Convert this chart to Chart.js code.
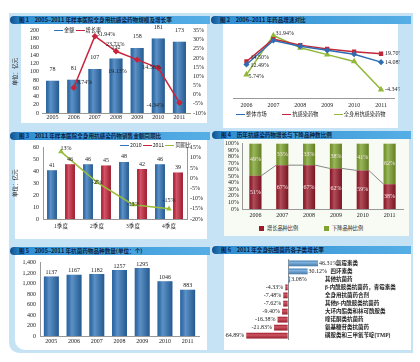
<!DOCTYPE html>
<html>
<head>
<meta charset="utf-8">
<script src="https://cdn.jsdelivr.net/npm/chart.js@4"></script>
<style>
body{margin:0;width:420px;height:362px;background:#fff;position:relative;overflow:hidden;font-family:"Noto Sans CJK SC",sans-serif}
.bg{position:absolute;left:9px;top:13px;width:404px;height:340px;background:#c6e3f5;border-radius:0 0 0 10px}
.inner{position:absolute;background:#fff}
.hd{position:absolute;height:8px;border-radius:4px 0 0 4px;background:linear-gradient(90deg,#0f4f8f,#2f8fd2 6%,#56aee5);color:#0a2246;font-size:5.6px;font-weight:bold;line-height:8px;padding-left:9px;white-space:nowrap;box-sizing:border-box}
canvas{position:absolute}
.lg{position:absolute;font-size:5.2px;line-height:7px;white-space:nowrap;color:#222}
.ln{display:inline-block;width:9px;height:0;border-top:1.5px solid;vertical-align:middle;margin-right:1px}
.sq{display:inline-block;width:5px;height:5px;vertical-align:middle;margin-right:3px}
</style>
</head>
<body>
<div class="bg"></div>
<div class="inner" style="left:21px;top:24px;width:186px;height:99px"></div>
<div class="inner" style="left:223px;top:24px;width:175px;height:104px"></div>
<div class="inner" style="left:15px;top:140px;width:192px;height:99px"></div>
<div class="inner" style="left:224px;top:137px;width:185px;height:99px;background:#f7fbf3"></div>
<div class="inner" style="left:15px;top:254px;width:192px;height:96px;border-radius:0 0 0 10px"></div>
<div class="inner" style="left:224px;top:252px;width:187px;height:98px"></div>

<div class="hd" style="left:10px;top:16px;width:200px">图 1　2005–2011 年样本医院全身用抗感染药物规模及增长率</div>
<div class="hd" style="left:211px;top:16px;width:200px">图 2　2006–2011 年药品增速对比</div>
<div class="hd" style="left:10px;top:132px;width:200px">图 3　2011 年样本医院全身用抗感染药物销售金额同期比</div>
<div class="hd" style="left:212px;top:131px;width:199px">图 4　历年抗感染药物增长与下降品种数比例</div>
<div class="hd" style="left:10px;top:247px;width:200px">图 5　2005–2011 年抗菌药物品种数量(单位：个)</div>
<div class="hd" style="left:212px;top:246px;width:199px">图 6　2011 年全身抗细菌药各子类增长率</div>

<canvas id="c1" width="196" height="98" style="left:12px;top:24px"></canvas>
<canvas id="c2" width="175" height="88" style="left:225px;top:24px"></canvas>
<canvas id="c3" width="196" height="95" style="left:12px;top:140px"></canvas>
<canvas id="c4" width="185" height="86" style="left:225px;top:137px"></canvas>
<canvas id="c5" width="192" height="92" style="left:15px;top:255px"></canvas>
<canvas id="c6" width="185" height="93" style="left:225px;top:253px"></canvas>

<div class="lg" style="left:54px;top:26px"><span class="ln" style="border-color:#2f73b8"></span>金额 <span class="ln" style="border-color:#c8243c"></span>增长率</div>
<div class="lg" style="left:236px;top:110px"><span class="ln" style="border-color:#2e6db4"></span>整体市场　　　<span class="ln" style="border-color:#c0283a"></span>抗感染药物　　　<span class="ln" style="border-color:#92b83a"></span>全身用抗感染药物</div>
<div class="lg" style="left:120px;top:141px"><span class="ln" style="border-color:#2f73b8"></span>2010 <span class="ln" style="border-color:#c8243c"></span>2011 <span class="ln" style="border-color:#9bbb3b"></span>同期比</div>
<div class="lg" style="left:259px;top:224px"><span class="sq" style="background:#9b1b2b"></span>增长品种比例　　　　　<span class="sq" style="background:#7fa32e"></span>下降品种比例</div>

<script>
const years = ['2005', '2006', '2007', '2008', '2009', '2010', '2011'];
const amount = [78, 81, 107, 132, 158, 181, 173];
const amountGrowth = [null, 3.74, 31.94, 23.71, 19.13, 14.56, -4.34];

const years2 = ['2006', '2007', '2008', '2009', '2010', '2011'];
const marketGrowth = [12.49, 28.6, 24.8, 22.0, 19.4, 14.08];
const antiGrowth = [14.50, 29.5, 25.5, 22.9, 21.1, 19.70];
const systemicGrowth = [5.74, 31.94, 23.71, 19.13, 14.56, -4.34];

const quarters = ['1季度', '2季度', '3季度', '4季度'];
const sales2010 = [41, 46, 48, 46];
const sales2011 = [46, 45, 42, 39];
const yoy = [13, -2, -13, -15];

const riseShare = [51, 67, 67, 62, 59, 38];
const fallShare = [49, 33, 33, 38, 41, 62];

const varietyCount = [1137, 1167, 1182, 1257, 1295, 1046, 883];

const subclasses = ['氯霉素类', '四环素类', '其他抗菌药', 'β-内酰胺类抗菌药，青霉素类', '全身用抗菌药合剂',
  '其他β-内酰胺类抗菌药', '大环内酯类和林可酰胺类', '喹诺酮类抗菌药', '氨基糖苷类抗菌药', '磺胺类和三甲氧苄啶(TMP)'];
const subGrowth = [46.31, 30.12, 3.08, -4.33, -7.48, -7.62, -9.40, -16.38, -21.83, -64.89];

Chart.defaults.font.family = '"Liberation Serif", "Noto Sans CJK SC", serif';
Chart.defaults.font.size = 6;
Chart.defaults.color = '#222';
Chart.defaults.animation = false;
Chart.defaults.responsive = false;
Chart.defaults.plugins.legend.display = false;
Chart.defaults.plugins.tooltip.enabled = false;

const numFont = '6px "Liberation Serif", "Noto Sans CJK SC"';
const pct = v => v.toFixed(2) + '%';
const noGrid = { display: false, drawTicks: false };

function labels(draw) {
  return {
    id: 'labels',
    afterDatasetsDraw(chart) {
      const ctx = chart.ctx;
      ctx.save();
      ctx.font = numFont;
      ctx.fillStyle = '#222';
      draw(chart, ctx);
      ctx.restore();
    }
  };
}

// cylinder-like shading over bar datasets
const shade = {
  id: 'shade',
  afterDatasetDraw(chart, args) {
    const meta = args.meta;
    if (meta.type !== 'bar') return;
    const ctx = chart.ctx;
    ctx.save();
    meta.data.forEach(b => {
      const horizontal = chart.options.indexAxis === 'y';
      const x0 = horizontal ? Math.min(b.x, b.base) : b.x - b.width / 2;
      const y0 = horizontal ? b.y - b.height / 2 : Math.min(b.y, b.base);
      const w = horizontal ? Math.abs(b.x - b.base) : b.width;
      const h = horizontal ? b.height : Math.abs(b.base - b.y);
      const g = horizontal ? ctx.createLinearGradient(0, y0, 0, y0 + h) : ctx.createLinearGradient(x0, 0, x0 + w, 0);
      g.addColorStop(0, 'rgba(0,0,0,0.12)');
      g.addColorStop(0.35, 'rgba(255,255,255,0.22)');
      g.addColorStop(1, 'rgba(0,0,0,0.22)');
      ctx.fillStyle = g;
      ctx.fillRect(x0, y0, w, h);
    });
    ctx.restore();
  }
};

function fixed(w, h) {
  return a => {
    if (w != null) a.width = w;
    if (h != null) a.height = h;
  };
}

// 图1
const growthOffsets = [null, [3, -5], [2, -2], [-10, -7], [-29, 12], [-16, -1], [-33, 3]];
new Chart(document.getElementById('c1'), {
  data: {
    labels: years,
    datasets: [
      { type: 'line', data: amountGrowth, yAxisID: 'y1', borderColor: '#c8243c', backgroundColor: '#c8243c',
        borderWidth: 1.5, pointRadius: 2.2, pointStyle: 'rectRot', order: 0 },
      { type: 'bar', data: amount, yAxisID: 'y', backgroundColor: '#2f73b8',
        barPercentage: 0.62, categoryPercentage: 1, order: 1 }
    ]
  },
  options: {
    layout: { padding: { top: 6 } },
    scales: {
      x: { grid: noGrid, border: { color: '#999' }, ticks: { padding: 1, maxRotation: 0 }, afterFit: fixed(null, 9) },
      y: { min: 0, max: 200, ticks: { stepSize: 20, padding: 3, autoSkip: false }, grid: noGrid, border: { display: false },
        title: { display: true, text: '单位：亿元', padding: 0, font: { size: 5.5 } }, afterFit: fixed(30) },
      y1: { position: 'right', min: -10, max: 35, ticks: { stepSize: 5, padding: 3, autoSkip: false, callback: v => v + '%' },
        grid: noGrid, border: { display: false }, afterFit: fixed(18) }
    }
  },
  plugins: [shade, labels((chart, ctx) => {
    ctx.textAlign = 'center';
    ctx.textBaseline = 'bottom';
    chart.getDatasetMeta(1).data.forEach((b, i) => ctx.fillText(amount[i], b.x, b.y - 8));
    ctx.textAlign = 'left';
    ctx.textBaseline = 'middle';
    chart.getDatasetMeta(0).data.forEach((p, i) => {
      if (amountGrowth[i] == null) return;
      const o = growthOffsets[i];
      ctx.fillText(pct(amountGrowth[i]), p.x + o[0], p.y + o[1]);
    });
  })]
});

// 图2
new Chart(document.getElementById('c2'), {
  type: 'line',
  data: {
    labels: years2,
    datasets: [
      { data: marketGrowth, borderColor: '#2e6db4', backgroundColor: '#2e6db4', borderWidth: 1.5, pointRadius: 2, pointStyle: 'rectRot' },
      { data: antiGrowth, borderColor: '#c0283a', backgroundColor: '#c0283a', borderWidth: 1.5, pointRadius: 2, pointStyle: 'rect' },
      { data: systemicGrowth, borderColor: '#92b83a', backgroundColor: '#92b83a', borderWidth: 1.5, pointRadius: 2.2, pointStyle: 'triangle' }
    ]
  },
  options: {
    layout: { padding: { top: 3, left: 8, right: 3 } },
    scales: {
      x: { offset: true, grid: { display: false, drawTicks: true, tickLength: 2 }, border: { color: '#999' }, ticks: { padding: 2, maxRotation: 0 }, afterFit: fixed(null, 14) },
      y: { display: false, min: -10, max: 36 }
    }
  },
  plugins: [labels((chart, ctx) => {
    ctx.textBaseline = 'middle';
    ctx.textAlign = 'left';
    const m = chart.getDatasetMeta(0).data, r = chart.getDatasetMeta(1).data, g = chart.getDatasetMeta(2).data;
    const last = years2.length - 1;
    ctx.fillText(pct(antiGrowth[0]), r[0].x + 4, r[0].y - 4);
    ctx.fillText(pct(marketGrowth[0]), m[0].x + 4, m[0].y + 1);
    ctx.fillText(pct(systemicGrowth[0]), g[0].x + 2, g[0].y + 2);
    ctx.fillText(pct(systemicGrowth[1]), g[1].x + 2, g[1].y - 2);
    ctx.fillText(pct(antiGrowth[last]), r[last].x + 4, r[last].y);
    ctx.fillText(pct(marketGrowth[last]), m[last].x + 4, m[last].y);
    ctx.fillText(pct(systemicGrowth[last]), g[last].x + 4, g[last].y);
  })]
});

// 图3
const yoyOffsets = [[5, -3], [0, 0], [0, 0], [0, -8]];
new Chart(document.getElementById('c3'), {
  data: {
    labels: quarters,
    datasets: [
      { type: 'line', data: yoy, yAxisID: 'y1', borderColor: '#9bbb3b', backgroundColor: '#9bbb3b',
        borderWidth: 1.5, pointRadius: 1.8, pointStyle: 'triangle', order: 0 },
      { type: 'bar', data: sales2010, yAxisID: 'y', backgroundColor: '#2f73b8', barPercentage: 0.55, categoryPercentage: 1, order: 1 },
      { type: 'bar', data: sales2011, yAxisID: 'y', backgroundColor: '#c8243c', barPercentage: 0.55, categoryPercentage: 1, order: 2 }
    ]
  },
  options: {
    layout: { padding: { top: 3 } },
    scales: {
      x: { grid: noGrid, border: { color: '#999' }, ticks: { padding: 4, maxRotation: 0, font: { size: 5.5 } }, afterFit: fixed(null, 16) },
      y: { min: 0, max: 60, ticks: { stepSize: 10, padding: 4, autoSkip: false }, grid: noGrid, border: { color: '#999' },
        title: { display: true, text: '单位：亿元', padding: 0, font: { size: 5.5 } }, afterFit: fixed(31) },
      y1: { position: 'right', min: -20, max: 15, ticks: { stepSize: 5, padding: 3, autoSkip: false, callback: v => v + '%' },
        grid: noGrid, border: { color: '#999' }, afterFit: fixed(21) }
    }
  },
  plugins: [shade, labels((chart, ctx) => {
    ctx.textAlign = 'center';
    ctx.textBaseline = 'bottom';
    chart.getDatasetMeta(1).data.forEach((b, i) => ctx.fillText(sales2010[i], b.x, b.y - 2));
    chart.getDatasetMeta(2).data.forEach((b, i) => ctx.fillText(sales2011[i], b.x, b.y - 2));
    ctx.textBaseline = 'middle';
    chart.getDatasetMeta(0).data.forEach((p, i) => ctx.fillText(yoy[i] + '%', p.x + yoyOffsets[i][0], p.y + yoyOffsets[i][1]));
  })]
});

// 图4
new Chart(document.getElementById('c4'), {
  type: 'bar',
  data: {
    labels: years2,
    datasets: [
      { data: riseShare, backgroundColor: '#9b1b2b', barPercentage: 0.45, categoryPercentage: 1 },
      { data: fallShare, backgroundColor: '#7fa32e', barPercentage: 0.45, categoryPercentage: 1 }
    ]
  },
  options: {
    layout: { padding: { top: 4, right: 7 } },
    scales: {
      x: { stacked: true, grid: noGrid, border: { color: '#999' }, ticks: { padding: 3, maxRotation: 0 }, afterFit: fixed(null, 14) },
      y: { stacked: true, min: 0, max: 100, ticks: { stepSize: 10, padding: 3, autoSkip: false, callback: v => v + '%' },
        grid: noGrid, border: { color: '#999' }, afterFit: fixed(17) }
    }
  },
  plugins: [shade, labels((chart, ctx) => {
    const red = chart.getDatasetMeta(0).data, green = chart.getDatasetMeta(1).data;
    ctx.strokeStyle = '#555';
    ctx.lineWidth = 0.7;
    ctx.beginPath();
    for (let i = 0; i < red.length - 1; i++) {
      ctx.moveTo(red[i].x + red[i].width / 2, red[i].y);
      ctx.lineTo(red[i + 1].x - red[i + 1].width / 2, red[i + 1].y);
    }
    ctx.stroke();
    ctx.fillStyle = '#f3e6e6';
    ctx.textAlign = 'center';
    ctx.textBaseline = 'middle';
    red.forEach((b, i) => ctx.fillText(riseShare[i] + '%', b.x, (b.y + b.base) / 2));
    green.forEach((b, i) => ctx.fillText(fallShare[i] + '%', b.x, (b.y + b.base) / 2));
  })]
});

// 图5
new Chart(document.getElementById('c5'), {
  type: 'bar',
  data: {
    labels: years,
    datasets: [{ data: varietyCount, backgroundColor: '#2f73b8', barPercentage: 0.66, categoryPercentage: 1 }]
  },
  options: {
    layout: { padding: { top: 6, right: 8 } },
    scales: {
      x: { grid: noGrid, border: { color: '#999' }, ticks: { padding: 2, maxRotation: 0 }, afterFit: fixed(null, 11) },
      y: { min: 0, max: 1400, ticks: { stepSize: 200, padding: 4, autoSkip: false }, grid: noGrid, border: { color: '#999' }, afterFit: fixed(25) }
    }
  },
  plugins: [shade, labels((chart, ctx) => {
    ctx.textAlign = 'center';
    ctx.textBaseline = 'bottom';
    chart.getDatasetMeta(0).data.forEach((b, i) => ctx.fillText(varietyCount[i], b.x, b.y - 1));
  })]
});

// 图6
const catIndent = ['　　', '　'];
new Chart(document.getElementById('c6'), {
  type: 'bar',
  data: {
    labels: subclasses,
    datasets: [{ data: subGrowth, backgroundColor: subGrowth.map(v => v >= 0 ? '#5b9bd5' : '#c0283a'),
      barPercentage: 0.72, categoryPercentage: 1 }]
  },
  options: {
    indexAxis: 'y',
    layout: { padding: { top: 3, left: 18, bottom: 6 } },
    scales: {
      x: { min: -70, max: 52.5, ticks: { display: false, stepSize: 10 }, border: { display: false },
        grid: { drawTicks: false, color: c => c.tick && c.tick.value === 0 ? '#8a8a8a' : 'rgba(0,0,0,0)' }, afterFit: fixed(null, 0) },
      y: { position: 'right', grid: noGrid, border: { display: false },
        ticks: { padding: 3, autoSkip: false, font: { size: 5.5, weight: 'bold' }, callback: (v, i) => (catIndent[i] || '') + subclasses[i] },
        afterFit: fixed(88) }
    }
  },
  plugins: [shade, labels((chart, ctx) => {
    ctx.textBaseline = 'middle';
    chart.getDatasetMeta(0).data.forEach((b, i) => {
      const v = subGrowth[i];
      ctx.textAlign = v >= 0 ? 'left' : 'right';
      ctx.fillText(pct(v), v >= 0 ? b.x + 1 : b.x - 2, b.y);
    });
  })]
});
</script>
</body>
</html>
